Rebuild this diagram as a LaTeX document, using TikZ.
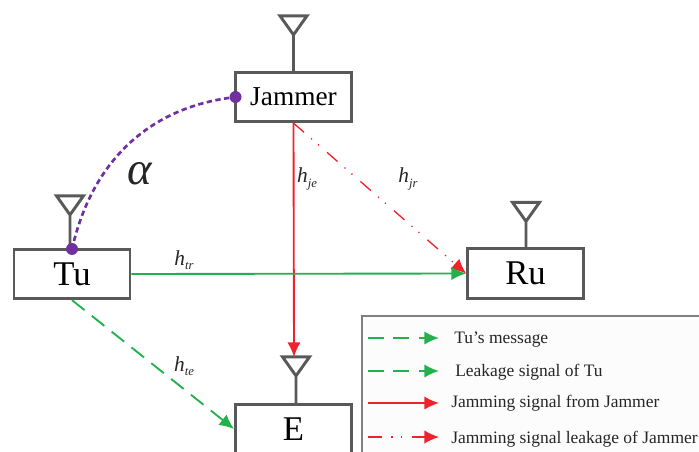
\documentclass[tikz,border=0pt]{standalone}
\usepackage{fontspec}
\setmainfont{Liberation Serif}
\usepackage{tikz}
\usetikzlibrary{arrows.meta,positioning}

\definecolor{boxgray}{HTML}{595959}
\definecolor{siggreen}{HTML}{22B14C}
\definecolor{sigred}{HTML}{F0222B}
\definecolor{dotpurple}{HTML}{7030A0}

\tikzset{
    terminal/.style={rectangle,draw=boxgray,line width=2.2pt,fill=white,inner sep=0pt,minimum width=87pt,minimum height=37pt,font=\fontsize{26}{26}\selectfont},
    antenna/.style={draw=boxgray,line width=2.2pt,line join=miter},
    endpoint/.style={circle,fill=dotpurple,inner sep=0pt,minimum size=9pt},
    sigarrow/.style={-{Latex[length=11pt,width=10pt]},line width=1.4pt},
    greendash/.style={sigarrow,siggreen,dash pattern=on 12pt off 7pt},
    redsolid/.style={sigarrow,sigred},
    reddots/.style={sigarrow,sigred,line width=1pt,dash pattern=on 10.5pt off 7pt on .9pt off 6pt on .9pt off 8pt},
    chanlabel/.style={font=\fontsize{16}{16}\selectfont\itshape,text=black!85},
    legendtext/.style={anchor=west,inner sep=0pt,font=\fontsize{13.1}{13.1}\selectfont,text=black!85}
}

\newcommand{\chan}[2]{#1\raisebox{-.45ex}{\fontsize{9.5}{9.5}\selectfont #2}}

\begin{document}
\begin{tikzpicture}[x=0.75pt,y=-0.75pt]
    \clip (0,0) rectangle (699,452);

    % terminals
    \node[terminal,font=\fontsize{20.5}{20.5}\selectfont] (Jammer) at (293.5,97) {Jammer};
    \node[terminal] (Tu) at (72,274) {Tu};
    \node[terminal] (Ru) at (525.5,273.5) {Ru};
    \node[terminal] (E) at (293.5,429) {E};

    % antennas
    \coordinate (topE) at (294,357);
    \foreach \n/\dx/\h in {Jammer/0/36,Tu/-2/33,Ru/0.5/26,E/2.5/27} {
        \draw[antenna] ([xshift=\dx*0.75pt]\n.north) -- ++(0,-\h) -- ++(-13.5,-19) -- ++(27,0) -- ++(-13.5,19);
    }

    % links
    \draw[redsolid] (Jammer.south) -- (topE);
    \draw[reddots] (Jammer.south) -- (Ru.west);
    \draw[sigarrow,siggreen] (Tu.east) -- (Ru.west);
    \draw[greendash] (Tu.south) -- (E.west);

    % angle
    \node[endpoint] (jamdot) at (235.5,97) {};
    \node[endpoint] (tudot) at (72,249) {};
    \draw[dotpurple,line width=2pt,dash pattern=on 4pt off 2.6pt] (jamdot) to[out=188,in=76] (tudot);
    \node[font=\fontsize{35}{35}\selectfont\itshape,text=black!85] (alpha) at (140,174) {α};

    % channel labels
    \node[chanlabel] (hje) at (307,179) {\chan{h}{je}};
    \node[chanlabel] (hjr) at (408,179) {\chan{h}{jr}};
    \node[chanlabel] (htr) at (184,260) {\chan{h}{tr}};
    \node[chanlabel] (hte) at (184,366) {\chan{h}{te}};

    % legend
    \node[rectangle,draw=black!50,line width=1.2pt,fill=black!1,inner sep=0pt,minimum width=400pt,minimum height=200pt,anchor=north west] (legend) at (361,315) {};
    \foreach \i/\y/\sty/\tx/\ty/\lab in {1/338/greendash/454/340/{Tu’s message},2/371/greendash/455/372/{Leakage signal of Tu},3/403/redsolid/451/403/{Jamming signal from Jammer},4/437/reddots/451/439/{Jamming signal leakage of Jammer}} {
        \coordinate (ls\i) at (368,\y);
        \coordinate (le\i) at (439,\y);
        \draw[\sty] (ls\i) -- (le\i);
        \node[legendtext] (lt\i) at (\tx,\ty) {\lab};
    }
\end{tikzpicture}
\end{document}
